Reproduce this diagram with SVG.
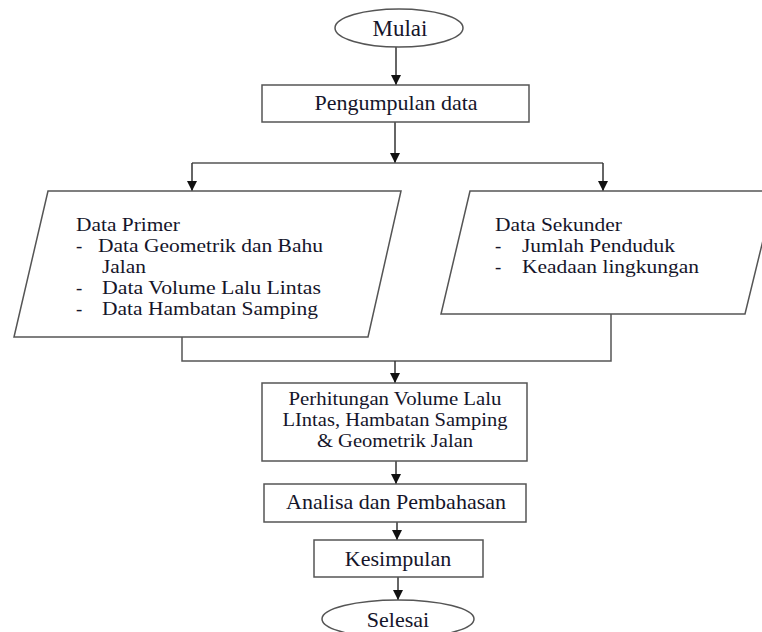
<svg xmlns="http://www.w3.org/2000/svg" width="762" height="632" viewBox="0 0 762 632">
<defs>
<marker id="arr" viewBox="0 0 10 10" refX="10" refY="5" markerWidth="10" markerHeight="10" markerUnits="userSpaceOnUse" orient="auto">
<path d="M0,0 L10,5 L0,10 z" fill="#111"/>
</marker>
<style>
.shape{fill:#fff;stroke:#555;stroke-width:1.5}
.line{fill:none;stroke:#555;stroke-width:1.5}
.arrow{fill:none;stroke:#333;stroke-width:1.5;marker-end:url(#arr)}
text{font-family:"Liberation Serif","Times New Roman",serif;font-size:22px;fill:#15152a}
.c{text-anchor:middle}
.b{font-size:18.8px}
</style>
</defs>
<rect width="762" height="632" fill="#fff"/>
<g id="connectors">
<line class="arrow" x1="396" y1="47" x2="396" y2="85"/>
<line class="arrow" x1="395" y1="122" x2="395" y2="163"/>
<line class="line" x1="192" y1="163" x2="603" y2="163"/>
<line class="arrow" x1="192" y1="163" x2="192" y2="191"/>
<line class="arrow" x1="603" y1="163" x2="603" y2="191"/>
<polyline class="line" points="182,337 182,361 611,361 611,314"/>
<line class="arrow" x1="395" y1="361" x2="395" y2="383"/>
<line class="arrow" x1="396" y1="461" x2="396" y2="484"/>
<line class="arrow" x1="397" y1="522" x2="397" y2="540"/>
<line class="arrow" x1="398" y1="577" x2="398" y2="600"/>
</g>
<g id="mulai">
<ellipse class="shape" cx="399" cy="28" rx="64" ry="19"/>
<text class="c" x="400" y="36" style="font-size:23px">Mulai</text>
</g>
<g id="pengumpulan">
<rect class="shape" x="262" y="85" width="267" height="37"/>
<text class="c" x="396" y="110">Pengumpulan data</text>
</g>
<g id="data-primer">
<polygon class="shape" points="48,191 401,191 368,337 14,337"/>
<text class="b" x="76" y="231" textLength="104" lengthAdjust="spacingAndGlyphs">Data Primer</text>
<text class="b" x="76" y="252">-</text>
<text class="b" x="98" y="252" textLength="225" lengthAdjust="spacingAndGlyphs">Data Geometrik dan Bahu</text>
<text class="b" x="102" y="273" textLength="44" lengthAdjust="spacingAndGlyphs">Jalan</text>
<text class="b" x="76" y="294">-</text>
<text class="b" x="102" y="294" textLength="219" lengthAdjust="spacingAndGlyphs">Data Volume Lalu Lintas</text>
<text class="b" x="76" y="315">-</text>
<text class="b" x="102" y="315" textLength="216" lengthAdjust="spacingAndGlyphs">Data Hambatan Samping</text>
</g>
<g id="data-sekunder">
<polygon class="shape" points="470,191 775,191 745,314 441,314"/>
<text class="b" x="495" y="231" textLength="127" lengthAdjust="spacingAndGlyphs">Data Sekunder</text>
<text class="b" x="495" y="252">-</text>
<text class="b" x="522" y="252" textLength="153" lengthAdjust="spacingAndGlyphs">Jumlah Penduduk</text>
<text class="b" x="495" y="273">-</text>
<text class="b" x="522" y="273" textLength="177" lengthAdjust="spacingAndGlyphs">Keadaan lingkungan</text>
</g>
<g id="perhitungan">
<rect class="shape" x="262" y="383" width="265" height="78"/>
<text class="c b" x="395" y="405" textLength="213" lengthAdjust="spacingAndGlyphs">Perhitungan Volume Lalu</text>
<text class="c b" x="395" y="426" textLength="225" lengthAdjust="spacingAndGlyphs">LIntas, Hambatan Samping</text>
<text class="c b" x="395" y="447" textLength="156" lengthAdjust="spacingAndGlyphs">&amp; Geometrik Jalan</text>
</g>
<g id="analisa">
<rect class="shape" x="264" y="484" width="262" height="38"/>
<text class="c" x="396" y="509">Analisa dan Pembahasan</text>
</g>
<g id="kesimpulan">
<rect class="shape" x="314" y="540" width="169" height="37"/>
<text class="c" x="398" y="566">Kesimpulan</text>
</g>
<g id="selesai">
<ellipse class="shape" cx="398" cy="619" rx="76" ry="19"/>
<text class="c" x="398" y="627">Selesai</text>
</g>
</svg>
